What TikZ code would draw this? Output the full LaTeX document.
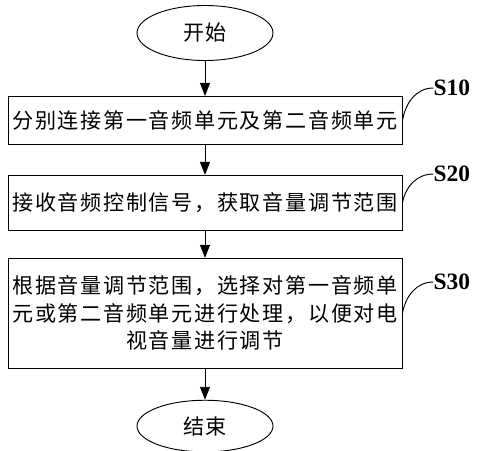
\documentclass[tikz,border=0pt]{standalone}
\usepackage{fontspec}
\setmainfont{Liberation Serif}
\newfontfamily\cjk[LetterSpace=8]{Noto Sans CJK SC}
\usetikzlibrary{arrows.meta,positioning,shapes.geometric}

\begin{document}
\begin{tikzpicture}[
  term/.style={ellipse, draw, line width=0.8pt, minimum width=4.08cm,
              minimum height=1.65cm, inner sep=0pt,
              font=\cjk\fontsize{18}{23}\selectfont},
  box/.style={rectangle, draw, line width=0.8pt, minimum width=11.82cm,
              align=center, inner sep=0pt,
              font=\cjk\fontsize{18}{23.5}\selectfont},
  lab/.style={anchor=west, inner sep=0pt, font=\fontsize{20}{20}\selectfont\bfseries},
  arr/.style={-{Triangle[length=3.9mm, width=3mm]}, line width=0.8pt},
  lnk/.style={line width=0.8pt}
]
\useasboundingbox (0,0) rectangle (14.34,-13.5);
% ── flow ─────────────
\node[term] (start) at (6.15,-0.99) {开始};
\node[box, minimum height=1.44cm, below=1.05cm of start] (step1)
  {分别连接第一音频单元及第二音频单元};
\node[box, minimum height=1.65cm, below=0.9cm of step1] (step2)
  {接收音频控制信号，获取音量调节范围};
\node[box, minimum height=3.3cm, below=0.81cm of step2] (step3)
  {根据音量调节范围，选择对第一音频单\\
   元或第二音频单元进行处理，以便对电\\
   视音量进行调节};
\node[term, minimum height=1.55cm, below=0.93cm of step3] (stop) {结束};
\draw[arr] (start) -- (step1);
\draw[arr] (step1) -- (step2);
\draw[arr] (step2) -- (step3);
\draw[arr] (step3) -- (stop);

% ── step labels ──────────
\node[lab] (s10) at (13.0,-2.64) {S10};
\node[lab] (s20) at (13.0,-5.22) {S20};
\node[lab] (s30) at (13.0,-8.46) {S30};
\draw[lnk] (step1.east) to[out=80, in=180] (s10.west);
\draw[lnk] (step2.east) to[out=80, in=180] (s20.west);
\draw[lnk] (step3.east) to[out=80, in=180] (s30.west);
\end{tikzpicture}
\end{document}
